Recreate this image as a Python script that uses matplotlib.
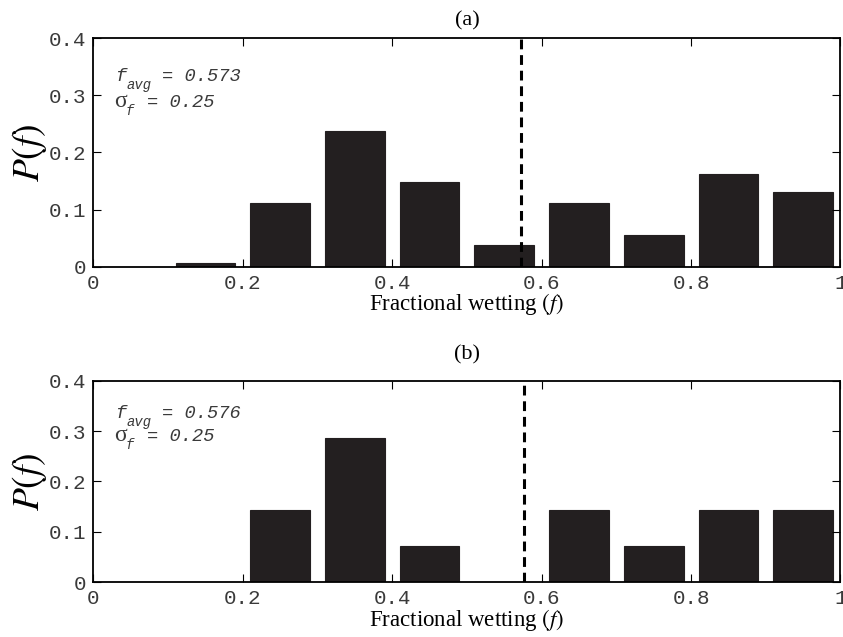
import matplotlib
matplotlib.use("Agg")
import matplotlib.pyplot as plt
import numpy as np

# histogram of fractional wetting, 10 bins on [0, 1]
bin_centers = [0.05, 0.15, 0.25, 0.35, 0.45, 0.55, 0.65, 0.75, 0.85, 0.95]
p_a = [0.0, 0.007, 0.112, 0.237, 0.148, 0.038, 0.112, 0.056, 0.162, 0.131]
p_b = [0.0, 0.0, 2/14, 4/14, 1/14, 0.0, 2/14, 1/14, 2/14, 2/14]
f_avg_a, sigma_a = 0.573, 0.25
f_avg_b, sigma_b = 0.576, 0.25
xticks = [0, 0.2, 0.4, 0.6, 0.8, 1]
yticks = [0, 0.1, 0.2, 0.3, 0.4]
xtick_labels = ['0', '0.2', '0.4', '0.6', '0.8', '1']
ytick_labels = ['0', '0.1', '0.2', '0.3', '0.4']

mono = 'Liberation Mono'
serif = 'Liberation Serif'
bar_color = '#231f20'
text_color = '#3a3a3a'

# stix gives Times-like math italics for P(f)
plt.rcParams['mathtext.fontset'] = 'stix'

fig = plt.figure(figsize=(8.43, 6.37), dpi=100)
ax_a = fig.add_axes([0.1107, 0.5813, 0.8863, 0.3586])
ax_b = fig.add_axes([0.1107, 0.0863, 0.8863, 0.3160])

value_dx = {'f': 47, '\u03c3': 33}


def stat_text(ax, x, y, name, name_font, sub, value):
    """draw e.g. f_avg = 0.573 with the subscript offset in pixels"""
    ax.text(x, y, name, fontsize=name_font[1], family=name_font[0],
            style=name_font[2], va='baseline', ha='left', color=text_color)
    ax.annotate(sub, xy=(x, y), xycoords='data', xytext=(11.5, -8),
                textcoords='offset pixels', fontsize=10, family=mono,
                style='italic', va='baseline', ha='left', color=text_color)
    ax.annotate(value, xy=(x, y), xycoords='data', xytext=(value_dx[name], 0),
                textcoords='offset pixels', fontsize=13.5, family=mono,
                style='italic', va='baseline', ha='left', color=text_color)


def panel(ax, p, f_avg, sigma, title, title_pad):
    ax.bar(bin_centers, p, width=0.08, color=bar_color,
           edgecolor=bar_color, linewidth=0.8)
    ax.plot([f_avg, f_avg], [0, 0.4], color='black', lw=2.2,
            dashes=(3.2, 1.9))
    ax.set_xlim(0, 1)
    ax.set_ylim(0, 0.4)
    ax.set_xticks(xticks)
    ax.set_xticklabels(xtick_labels, family=mono, fontsize=15)
    ax.set_yticks(yticks)
    ax.set_yticklabels(ytick_labels, family=mono, fontsize=15)
    ax.tick_params(direction='in', length=6, width=0.8, top=True,
                   right=True, pad=5, colors='black', labelcolor=text_color)
    for s in ax.spines.values():
        s.set_linewidth(1.3)
    ax.set_title(title, family=serif, fontsize=16, pad=title_pad)
    ax.set_xlabel('Fractional wetting $\\mathit{(f)}$', family=serif,
                  fontsize=16.5, labelpad=-1)
    ax.set_ylabel('$P(f)$', fontsize=27, labelpad=0)
    stat_text(ax, 0.029, 0.325, 'f', (mono, 13.5, 'italic'), 'avg',
              '= %.3f' % f_avg)
    stat_text(ax, 0.028, 0.28, '\u03c3', (serif, 17, 'normal'), 'f',
              '= %.2f' % sigma)


panel(ax_a, p_a, f_avg_a, sigma_a, '(a)', 9.5)
panel(ax_b, p_b, f_avg_b, sigma_b, '(b)', 15)

fig.savefig('out.png', dpi=100)
